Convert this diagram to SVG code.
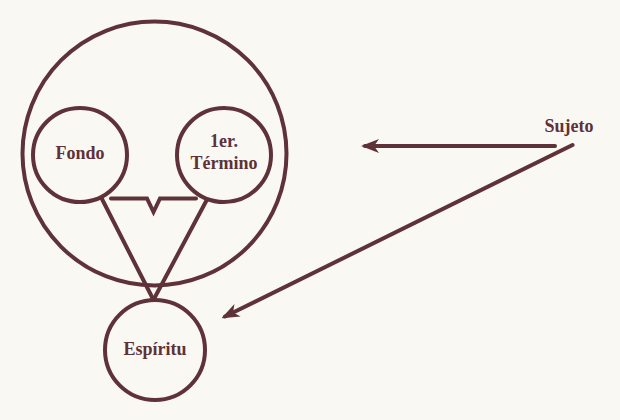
<svg xmlns="http://www.w3.org/2000/svg" width="620" height="420" viewBox="0 0 620 420">
<defs>
<style>
.c{fill:none;stroke:#5e3238;stroke-width:4}
.l{fill:none;stroke:#5e3238;stroke-width:4;stroke-linecap:round;stroke-linejoin:miter}
.t{font-family:"Liberation Serif","DejaVu Serif",serif;font-weight:bold;font-size:18px;fill:#5e3238;text-anchor:middle}
</style>
<marker id="ah" viewBox="0 0 20 14" refX="16" refY="7" markerWidth="20" markerHeight="14" markerUnits="userSpaceOnUse" orient="auto">
<path d="M20,7 L2,0 L7,7 L2,14 Z" fill="#5e3238"/>
</marker>
</defs>
<rect width="620" height="420" fill="#faf8f3"/>
<g id="outer"><circle class="c" cx="154.5" cy="153.5" r="132"/></g>
<g id="fondo"><circle class="c" cx="80" cy="155" r="47"/><text class="t" x="80" y="158.5">Fondo</text></g>
<g id="termino"><circle class="c" cx="224" cy="155" r="47"/><text class="t" x="224" y="146.5">1er.</text><text class="t" x="224" y="168.5">Término</text></g>
<g id="espiritu"><circle class="c" cx="155" cy="350" r="50"/><text class="t" x="155" y="355">Espíritu</text></g>
<g id="sujeto"><text class="t" x="569" y="131.5">Sujeto</text></g>
<g id="connectors">
<path class="l" d="M111,198.5 H147 L153.5,212 L160,198.5 H196"/>
<line class="l" x1="102" y1="199" x2="152.5" y2="298"/>
<line class="l" x1="206.5" y1="200.5" x2="155" y2="297"/>
<line class="l" x1="555" y1="146" x2="365" y2="146" marker-end="url(#ah)"/>
<line class="l" x1="572.5" y1="145" x2="225" y2="316.5" marker-end="url(#ah)"/>
</g>
</svg>
